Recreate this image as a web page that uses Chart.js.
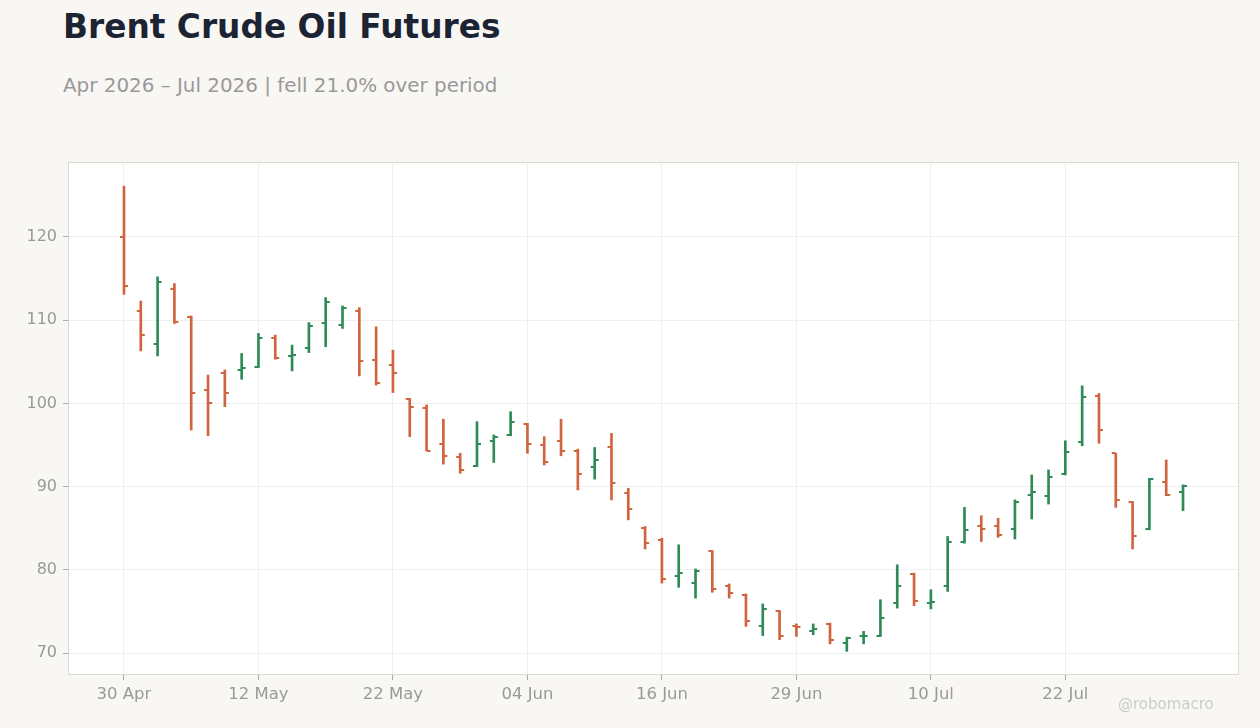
<!DOCTYPE html>
<html>
<head>
<meta charset="utf-8">
<script src="https://cdn.jsdelivr.net/npm/chart.js@4/dist/chart.umd.min.js"></script>
<style>
  body { margin: 0; background: #f9f7f4; font-family: "DejaVu Sans", sans-serif; }
  #wrap { position: relative; width: 1260px; height: 728px; }
  h1 { position: absolute; left: 63px; top: 8px; margin: 0; font-size: 32.8px; color: #1c2434; font-weight: bold; }
  .sub { position: absolute; left: 63px; top: 74px; font-size: 19.9px; color: #999; }
  .credit { position: absolute; left: 1118px; top: 695px; font-size: 15px; color: #ccc; }
  canvas { position: absolute; left: 0; top: 0; }
</style>
</head>
<body>
<div id="wrap">
  <h1>Brent Crude Oil Futures</h1>
  <div class="sub">Apr 2026 – Jul 2026 | fell 21.0% over period</div>
  <canvas id="chart" width="1260" height="728"></canvas>
  <div class="credit">@robomacro</div>
</div>
<script>
// trading days (weekdays, US holidays skipped)
const dates = ["30 Apr","01 May","04 May","05 May","06 May","07 May","08 May","11 May","12 May","13 May",
  "14 May","15 May","18 May","19 May","20 May","21 May","22 May","26 May","27 May","28 May",
  "29 May","01 Jun","02 Jun","03 Jun","04 Jun","05 Jun","08 Jun","09 Jun","10 Jun","11 Jun",
  "12 Jun","15 Jun","16 Jun","17 Jun","18 Jun","22 Jun","23 Jun","24 Jun","25 Jun","26 Jun",
  "29 Jun","30 Jun","01 Jul","02 Jul","06 Jul","07 Jul","08 Jul","09 Jul","10 Jul","13 Jul",
  "14 Jul","15 Jul","16 Jul","17 Jul","20 Jul","21 Jul","22 Jul","23 Jul","24 Jul","27 Jul",
  "28 Jul","29 Jul","30 Jul","31 Jul"];

const opens  = [120.0,111.1,107.1,113.8,110.4,101.6,103.6,104.0,104.4,107.8,
  105.7,106.6,109.7,109.4,111.1,105.2,104.6,100.5,99.4,95.1,
  93.5,92.5,95.5,96.2,97.5,95.0,95.5,94.3,92.3,94.8,
  89.2,85.0,83.6,79.2,78.4,82.2,78.1,77.0,73.2,75.0,
  73.2,72.7,73.5,71.2,72.0,72.1,76.0,79.5,76.0,78.1,
  83.4,85.3,85.3,84.9,89.0,88.9,91.5,95.3,100.9,94.0,
  88.1,84.9,90.6,89.4];
const highs  = [126.1,112.3,115.2,114.4,110.5,103.4,104.0,106.0,108.4,108.2,
  107.0,109.7,112.7,111.7,111.5,109.2,106.4,100.6,99.8,98.1,
  94.0,97.8,96.2,99.0,97.6,96.0,98.1,94.5,94.7,96.4,
  89.8,85.2,83.8,83.0,80.1,82.3,78.3,77.1,75.9,75.1,
  73.5,73.5,73.6,71.9,72.6,76.4,80.6,79.6,77.6,84.0,
  87.5,86.5,86.2,88.4,91.4,92.0,95.5,102.1,101.2,94.0,
  88.2,91.0,93.2,90.2];
const lows   = [113.1,106.3,105.7,109.6,96.8,96.1,99.6,102.9,104.3,105.3,
  103.9,106.1,106.8,109.0,103.3,102.2,101.3,96.0,94.3,92.7,
  91.6,92.4,92.9,96.1,94.0,92.6,93.7,89.6,90.9,88.4,
  86.0,82.5,78.4,77.9,76.6,77.3,76.6,73.2,72.1,71.6,
  72.0,72.2,71.1,70.2,71.1,72.0,75.4,75.7,75.3,77.4,
  83.2,83.4,83.9,83.7,86.1,87.9,91.4,94.9,95.2,87.5,
  82.5,84.8,88.9,87.1];
const closes = [114.1,108.2,114.6,109.8,101.3,100.1,101.3,104.2,107.9,105.5,
  105.8,109.3,112.2,111.5,105.1,102.5,103.6,99.6,94.3,93.7,
  92.0,95.1,96.0,97.8,95.1,92.9,94.3,91.5,93.2,90.4,
  87.3,83.2,78.9,79.6,79.9,77.7,77.2,73.8,75.3,72.1,
  73.1,72.9,71.6,71.8,72.1,74.2,78.1,76.3,76.1,83.4,
  84.8,84.9,84.2,88.2,89.3,91.1,94.1,100.8,96.8,88.4,
  84.1,90.9,89.0,90.1];
const xTicks = [0, 8, 16, 24, 32, 40, 48, 56];
const yTicks = [70, 80, 90, 100, 110, 120];

const UP = '#2e8b57', DOWN = '#d0643f';
const colors = opens.map((o, i) => closes[i] >= o ? UP : DOWN);

const plotBg = {
  id: 'plotBg',
  beforeDraw(chart) {
    const { ctx, chartArea: a } = chart;
    ctx.save();
    ctx.fillStyle = '#fff';
    ctx.fillRect(a.left, a.top, a.right - a.left, a.bottom - a.top);
    ctx.restore();
  },
  afterDraw(chart) {
    const { ctx, chartArea: a } = chart;
    ctx.save();
    ctx.strokeStyle = '#dcd8d2';
    ctx.lineWidth = 1;
    ctx.strokeRect(a.left + 0.5, a.top + 0.5, a.right - a.left - 1, a.bottom - a.top - 1);
    ctx.restore();
  }
};

// open tick to the left, close tick to the right
const ohlcTicks = {
  id: 'ohlcTicks',
  afterDatasetsDraw(chart) {
    const { ctx, scales: { x, y } } = chart;
    ctx.save();
    ctx.lineWidth = 2;
    opens.forEach((o, i) => {
      const px = x.getPixelForValue(i);
      ctx.strokeStyle = colors[i];
      ctx.beginPath();
      ctx.moveTo(px - 4, Math.round(y.getPixelForValue(o)));
      ctx.lineTo(px, Math.round(y.getPixelForValue(o)));
      ctx.moveTo(px, Math.round(y.getPixelForValue(closes[i])));
      ctx.lineTo(px + 4, Math.round(y.getPixelForValue(closes[i])));
      ctx.stroke();
    });
    ctx.restore();
  }
};

new Chart(document.getElementById('chart'), {
  type: 'bar',
  data: {
    datasets: [{
      data: dates.map((d, i) => ({ x: i, y: [lows[i], highs[i]] })),
      backgroundColor: colors,
      barThickness: 2,
      borderWidth: 0
    }]
  },
  plugins: [plotBg, ohlcTicks],
  options: {
    responsive: false,
    animation: false,
    layout: { padding: { top: 162, right: 21, left: 0, bottom: 0 } },
    plugins: { legend: { display: false }, tooltip: { enabled: false } },
    scales: {
      x: {
        type: 'linear',
        offset: false,
        min: -3.33, max: 66.33,
        afterBuildTicks: s => { s.ticks = xTicks.map(v => ({ value: v })); },
        afterFit: s => { s.height = 53; },
        ticks: {
          callback: v => dates[v],
          color: '#999', font: { family: 'DejaVu Sans', size: 16.5 }, padding: 5, maxRotation: 0
        },
        grid: { offset: false, color: '#efefef', drawTicks: true, tickLength: 5, tickColor: '#aaa' },
        border: { display: false }
      },
      y: {
        min: 67.36, max: 129.0,
        afterBuildTicks: s => { s.ticks = yTicks.map(v => ({ value: v })); },
        afterFit: s => { s.width = 68; },
        ticks: { color: '#999', font: { family: 'DejaVu Sans', size: 16 }, padding: 6 },
        grid: { color: '#efefef', drawTicks: true, tickLength: 5, tickColor: '#aaa' },
        border: { display: false }
      }
    }
  }
});
</script>
</body>
</html>
